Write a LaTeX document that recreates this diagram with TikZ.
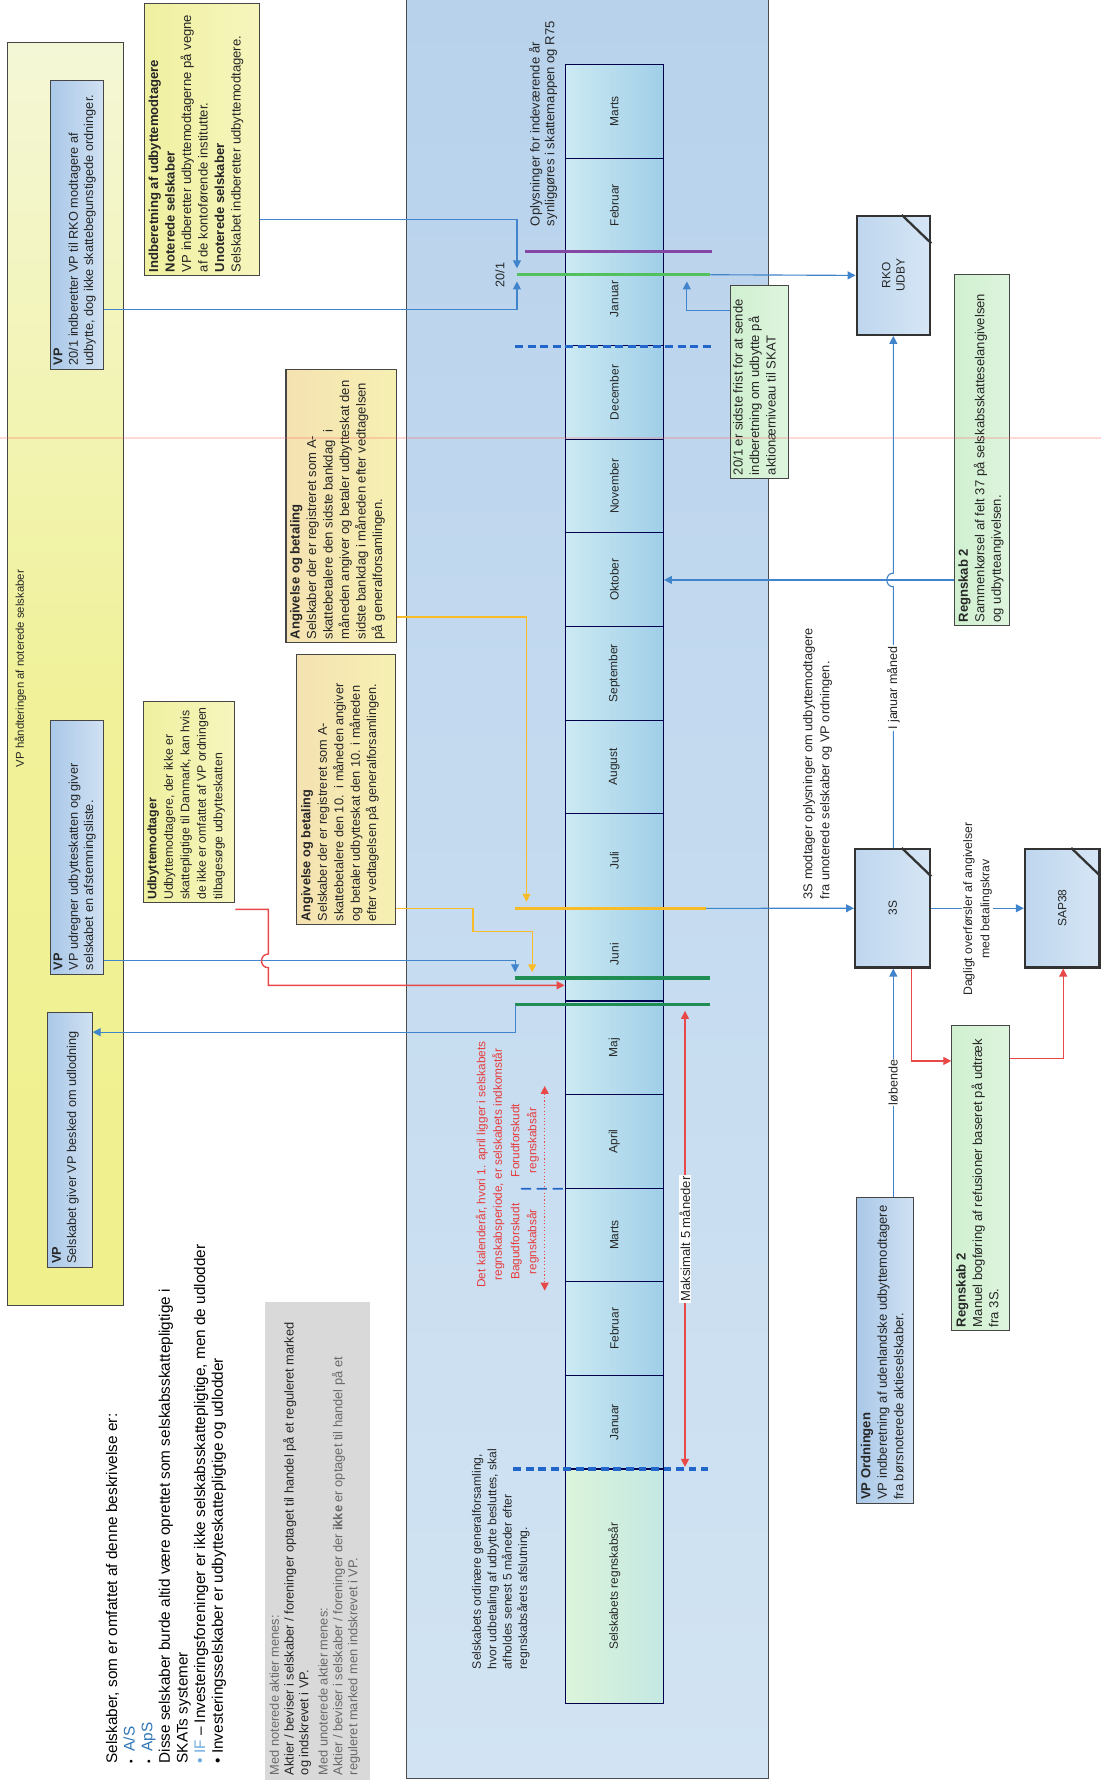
\documentclass[tikz,border=0pt]{standalone}
\usepackage{fontspec}
\setmainfont{Liberation Sans}
\usetikzlibrary{arrows.meta,fit,calc}
\definecolor{lnblue}{RGB}{64,132,204}
\definecolor{lnyel}{RGB}{248,188,40}
\definecolor{lnred}{RGB}{232,72,72}
\definecolor{lngreen}{RGB}{82,192,92}
\definecolor{lndgreen}{RGB}{32,142,82}
\definecolor{lnpurple}{RGB}{132,72,164}
\definecolor{lndash}{RGB}{34,102,204}
\definecolor{bordergray}{RGB}{70,70,70}
\definecolor{txtblue}{RGB}{46,117,182}
\definecolor{txtlblue}{RGB}{110,170,225}
\definecolor{txtgray}{RGB}{105,105,105}
\definecolor{txtred}{RGB}{230,60,60}
\definecolor{panelA}{RGB}{184,210,236}
\definecolor{panelB}{RGB}{210,228,243}
\definecolor{bigYa}{RGB}{244,247,214}
\definecolor{bigYb}{RGB}{240,240,140}
\definecolor{vpA}{RGB}{170,200,232}
\definecolor{vpB}{RGB}{208,225,242}
\definecolor{yelA}{RGB}{240,240,160}
\definecolor{yelB}{RGB}{246,246,190}
\definecolor{angA}{RGB}{245,226,178}
\definecolor{angB}{RGB}{246,240,178}
\definecolor{grnA}{RGB}{208,240,208}
\definecolor{grnB}{RGB}{222,244,222}
\definecolor{monA}{RGB}{204,234,242}
\definecolor{monB}{RGB}{160,206,232}
\definecolor{selA}{RGB}{220,244,218}
\definecolor{selB}{RGB}{196,232,226}
\definecolor{sysA}{RGB}{190,214,238}
\definecolor{sysB}{RGB}{214,230,245}
\begin{document}
\begin{tikzpicture}[x=1pt,y=-1pt,
  bx/.style={draw=bordergray, line width=0.9pt, inner sep=0pt},
  bigyel/.style={bx, top color=bigYa, bottom color=bigYb, middle color=bigYb!80!bigYa},
  vpbox/.style={bx, left color=vpA, right color=vpB},
  yelbox/.style={bx, left color=yelA, right color=yelB},
  angbox/.style={bx, left color=angA, right color=angB},
  grnbox/.style={bx, left color=grnA, right color=grnB},
  sysbox/.style={draw=black!80, line width=2pt, inner sep=0pt, left color=sysA, right color=sysB},
  monthbox/.style={draw=black!70!blue, line width=1pt, inner sep=0pt, left color=monA, right color=monB},
  selbox/.style={draw=black!70!blue, line width=1pt, inner sep=0pt, left color=selA, right color=selB},
  txt/.style={rotate=90, anchor=north west, align=left, inner sep=0pt, text=black!85, font=\fontsize{11.5}{14.5}\selectfont},
  lbl/.style={rotate=90, inner sep=1pt, text=black!85, font=\fontsize{10}{12}\selectfont},
  bl/.style={draw=lnblue, line width=1pt},
  arr/.style={-{Triangle[length=7pt,width=7pt]}},
  darr/.style={{Triangle[length=7pt,width=7pt]}-{Triangle[length=7pt,width=7pt]}},
  fold/.style={draw=black!80, line width=2pt}
]
\useasboundingbox (0,0) rectangle (968,1568);
\fill[white] (0,0) rectangle (968,1568);

% ---------- blue panel ----------
\node[draw=black!70, line width=1pt, inner sep=0pt, top color=panelA, bottom color=panelB, fit={(357.7,-5) (675.7,1563.8)}] (panel) {};

% ---------- big yellow box ----------
\node[bigyel, fit={(7,37) (109,1148)}] (bigY) {};
\node[lbl, font=\fontsize{10}{12}\selectfont] (bigYt) at (18,588) {VP håndteringen af noterede selskaber};

% ---------- boxes left ----------
\node[vpbox, fit={(44.5,71) (91,325)}] (vp1) {};
\node[txt, font=\fontsize{11.2}{13.5}\selectfont] (vp1t) at ([xshift=3pt,yshift=4pt]vp1.south west) {\textbf{VP}\\20/1 indberetter VP til RKO modtagere af\\udbytte, dog ikke skattebegunstigede ordninger.};

\node[vpbox, fit={(44.5,634) (91,857)}] (vp2) {};
\node[txt, font=\fontsize{11.2}{13.5}\selectfont] (vp2t) at ([xshift=3pt,yshift=4pt]vp2.south west) {\textbf{VP}\\VP udregner udbytteskatten og giver\\selskabet en afstemningsliste.};

\node[vpbox, fit={(42,890) (81,1115)}] (vp3) {};
\node[txt, font=\fontsize{11.2}{13.5}\selectfont] (vp3t) at ([xshift=4pt,yshift=4pt]vp3.south west) {\textbf{VP}\\Selskabet giver VP besked om udlodning};

\node[yelbox, fit={(127,3.5) (228,242)}] (indb) {};
\node[txt] (indbt) at ([xshift=4pt,yshift=3pt]indb.south west) {\textbf{Indberetning af udbyttemodtagere}\\\textbf{Noterede selskaber}\\VP indberetter udbyttemodtagerne på vegne\\af de kontoførende institutter.\\\textbf{Unoterede selskaber}\\Selskabet indberetter udbyttemodtagere.};

\node[yelbox, fit={(126,617) (206.6,794)}] (udb) {};
\node[txt, font=\fontsize{10.8}{14.5}\selectfont] (udbt) at ([xshift=4pt,yshift=3pt]udb.south west) {\textbf{Udbyttemodtager}\\Udbyttemodtagere, der ikke er\\skattepligtige til Danmark, kan hvis\\de ikke er omfattet af VP ordningen\\tilbagesøge udbytteskatten};

\node[angbox, fit={(251.5,325) (349,565)}] (ang1) {};
\node[txt] (ang1t) at ([xshift=4pt,yshift=3pt]ang1.south west) {\textbf{Angivelse og betaling}\\Selskaber der er registreret som A-\\skattebetalere den sidste bankdag\ \ i\\måneden angiver og betaler udbytteskat den\\sidste bankdag i måneden efter vedtagelsen\\på generalforsamlingen.};

\node[angbox, fit={(261,576) (348,813)}] (ang2) {};
\node[txt, font=\fontsize{11.2}{14.5}\selectfont] (ang2t) at ([xshift=4pt,yshift=3pt]ang2.south west) {\textbf{Angivelse og betaling}\\Selskaber der er registreret som A-\\skattebetalere den 10.\ \ i måneden angiver\\og betaler udbytteskat den 10. i måneden\\efter vedtagelsen på generalforsamlingen.};

% ---------- bottom-left text ----------
\node[txt, text=black, font=\fontsize{13.5}{15.5}\selectfont] (intro) at (93,1551) {Selskaber, som er omfattet af denne beskrivelse er:\\
{\small•}\ \ \textcolor{txtblue}{A/S}\\
{\small•}\ \ \textcolor{txtblue}{ApS}\\
Disse selskaber burde altid være oprettet som selskabsskattepligtige i\\
SKATs systemer\\
\textcolor{txtlblue}{• IF} – Investeringsforeninger er ikke selskabsskattepligtige, men de udlodder\\
• Investeringsselskaber er udbytteskattepligtige og udlodder};

\node[fill=black!15, inner sep=0pt, fit={(233,1145) (325,1565)}] (grayb) {};
\node[txt, font=\fontsize{11.3}{13}\selectfont] (grayt) at ([xshift=4pt,yshift=4pt]grayb.south west) {\textcolor{txtgray}{Med noterede aktier menes:}\\
Aktier / beviser i selskaber / foreninger optaget til handel på et reguleret marked\\
og indskrevet i VP.\\[4pt]
\textcolor{txtgray}{Med unoterede aktier menes:}\\
\textcolor{txtgray}{Aktier / beviser i selskaber / foreninger der \textbf{ikke} er optaget til handel på et}\\
\textcolor{txtgray}{reguleret marked men indskrevet i VP.}};

% ---------- timeline ----------
\foreach \i/\mname in {0/Marts,1/Februar,2/Januar,3/December,4/November,5/Oktober,6/September,7/August,8/Juli,9/Juni,10/Maj,11/April,12/Marts,13/Februar,14/Januar} {
  \pgfmathsetmacro\ya{57+82.33*\i}
  \pgfmathsetmacro\yb{57+82.33*(\i+1)}
  \node[monthbox, fit={(497,\ya) (583.4,\yb)}] (m\i) {};
  \node[lbl, font=\fontsize{10.5}{12}\selectfont] (m\i t) at (m\i.center) {\mname};
}
\node[selbox, fit={(497,1291.9) (583.4,1498)}] (msel) {};
\node[lbl, font=\fontsize{10.5}{12}\selectfont] (mselt) at (msel.center) {Selskabets regnskabsår};

% texts in panel
\node[txt, font=\fontsize{11.5}{13}\selectfont] (oplys) at (465,199) {Oplysninger for indeværende år\\synliggøres i skattemappen og R75};
\node[lbl, font=\fontsize{11}{12}\selectfont] (d201) at (439.7,242) {20/1};
\node[txt, font=\fontsize{10.7}{13.5}\selectfont] (gf) at (415,1468) {Selskabets ordinære generalforsamling,\\hvor udbetaling af udbytte besluttes, skal\\afholdes senest 5 måneder efter\\regnskabsårets afslutning.};
\node[lbl, text=txtred, align=center, font=\fontsize{10.4}{14.5}\selectfont] (kal) at (431,1024) {Det kalenderår, hvori 1. april ligger i selskabets\\regnskabsperiode, er selskabets indkomstår};
\node[lbl, text=txtred, align=center, font=\fontsize{10.4}{15}\selectfont] (bag) at (461.5,1092) {Bagudforskudt\\regnskabsår};
\node[lbl, text=txtred, align=center, font=\fontsize{10.4}{15}\selectfont] (forud) at (461.5,1003) {Forudforskudt\\regnskabsår};

% ---------- right side boxes ----------
\node[grnbox, fit={(642,250.7) (693.3,420.6)}] (frist) {};
\node[txt] (fristt) at ([xshift=3pt,yshift=3pt]frist.south west) {20/1 er sidste frist for at sende\\indberetning om udbytte på\\aktionærniveau til SKAT};

\node[sysbox, fit={(753.4,190) (818,294.4)}] (rko) {};
\draw[fold] ([xshift=-26pt]rko.north east) -- ([yshift=-25pt]rko.north east);
\node[lbl, align=center, font=\fontsize{10.5}{12.5}\selectfont] (rkot) at (rko.center) {RKO\\UDBY};

\node[grnbox, fit={(839,241.6) (888,550)}] (reg2a) {};
\node[txt] (reg2at) at ([xshift=4pt,yshift=3pt]reg2a.south west) {\textbf{Regnskab 2}\\Sammenkørsel af felt 37 på selskabsskatteselangivelsen\\og udbytteangivelsen.};

\node[sysbox, fit={(752,746.7) (818,850.8)}] (s3) {};
\draw[fold] ([xshift=-26pt]s3.north east) -- ([yshift=-25pt]s3.north east);
\node[lbl, font=\fontsize{10.5}{12}\selectfont] (s3t) at (s3.center) {3S};

\node[sysbox, fit={(901.4,746.7) (967,850.8)}] (sap) {};
\draw[fold] ([xshift=-26pt]sap.north east) -- ([yshift=-25pt]sap.north east);
\node[lbl, font=\fontsize{10.5}{12}\selectfont] (sapt) at (sap.center) {SAP38};

\node[grnbox, fit={(837,901.8) (888,1169.8)}] (reg2b) {};
\node[txt] (reg2bt) at ([xshift=4pt,yshift=3pt]reg2b.south west) {\textbf{Regnskab 2}\\Manuel bogføring af refusioner baseret på udtræk\\fra 3S.};

\node[vpbox, fit={(753.4,1053) (803,1321.8)}] (vpord) {};
\node[txt] (vpordt) at ([xshift=4pt,yshift=3pt]vpord.south west) {\textbf{VP Ordningen}\\VP indberetning af udenlandske udbyttemodtagere\\fra børsnoterede aktieselskaber.};

\node[txt, font=\fontsize{11.3}{15}\selectfont] (s3info) at (706,791) {3S modtager oplysninger om udbyttemodtagere\\fra unoterede selskaber og VP ordningen.};

% ---------- coordinates ----------
\coordinate (ja) at (454.6,193);
\coordinate (ta) at (454.6,236);
\coordinate (jb) at (454.6,272);
\coordinate (tb) at (454.6,247.5);
\coordinate (jc) at (604,273);
\coordinate (tc) at (604,247.5);
\coordinate (g1a) at (454.6,241.6);
\coordinate (g1b) at (624.6,241.6);
\coordinate (p1a) at (461.7,221);
\coordinate (p1b) at (626,221);
\coordinate (d1a) at (453,304.5);
\coordinate (d1b) at (626,304.5);
\coordinate (jd) at (700,510);
\coordinate (cx) at (785.6,0);
\coordinate (je) at (463,542.6);
\coordinate (te) at (463,793);
\coordinate (y1a) at (453,798.8);
\coordinate (y1b) at (621,798.8);
\coordinate (jf1) at (416,798.8);
\coordinate (jf2) at (416,819);
\coordinate (jf3) at (468,819);
\coordinate (tf) at (468,855);
\coordinate (jg) at (453,845);
\coordinate (tg) at (453,855);
\coordinate (g2a) at (453,860);
\coordinate (g2b) at (624.6,860);
\coordinate (g3a) at (453,883.4);
\coordinate (g3b) at (624.6,883.4);
\coordinate (jh) at (453,907.7);
\coordinate (jr1) at (236,799.7);
\coordinate (jr2) at (236,866.5);
\coordinate (mk1) at (602.4,889);
\coordinate (mk2) at (602.4,1290);
\coordinate (d2a) at (451.5,1292);
\coordinate (d2b) at (623,1292);
\coordinate (ra1) at (479,955);
\coordinate (ra2) at (479,1135);
\coordinate (d3a) at (458,1045.3);
\coordinate (jq) at (935,931);
\coordinate (jr) at (801.8,933);
\coordinate (cx2) at (785.6,0);

% ---------- thick lines ----------
\draw[lnpurple, line width=3pt] (p1a) -- (p1b);
\draw[lngreen, line width=3pt] (g1a) -- (g1b);
\draw[lndash, line width=3pt, dash pattern=on 7pt off 4pt] (d1a) -- (d1b);
\draw[lnyel, line width=3pt] (y1a) -- (y1b);
\draw[lndgreen, line width=3pt] (g2a) -- (g2b);
\draw[lndgreen, line width=3pt] (g3a) -- (g3b);
\draw[lndash, line width=3pt, dash pattern=on 7pt off 4pt] (d2a) -- (d2b);
\draw[lndash, line width=1.5pt, dash pattern=on 9pt off 5pt] (d3a) -- (m11.south west);

% ---------- connectors ----------
\draw[bl,arr] (indb.east |- ja) -- (ja) -- (ta);
\draw[bl,arr] (vp1.east |- jb) -- (jb) -- (tb);
\draw[bl,arr] (frist.west |- jc) -- (jc) -- (tc);
\draw[bl,arr] (g1b) -- (rko.west);
\draw[bl,arr] (reg2a.west |- jd) -- (m5.east |- jd);
\draw[lnyel, line width=1pt, arr] (ang1.east |- je) -- (je) -- (te);
\draw[lnyel, line width=1pt, arr] (ang2.east |- jf1) -- (jf1) -- (jf2) -- (jf3) -- (tf);
\draw[bl,arr] (y1b) -- (s3.west);
\draw[bl,arr] (vp2.east |- jg) -- (jg) -- (tg);
\draw[lnred, line width=1.2pt, arr] (udb.east |- jr1) -- (jr1) -- (236,839) .. controls (228,839) and (228,851) .. (236,851) -- (jr2) -- (m9.west |- jr2);
\draw[bl,arr] (g3a) -- (jh) -- (vp3.east |- jh);
\draw[lnred, line width=1.2pt, darr] (mk1) -- (mk2) node[pos=0.5, lbl, fill=white, text=black!85, font=\fontsize{11.5}{13}\selectfont] (mk) {Maksimalt 5 måneder};
\draw[lnred, line width=1pt, dotted, darr] (ra1) -- (ra2);

\draw[bl,arr] (s3.north -| cx) -- (785.6,516) .. controls (778,516) and (778,504) .. (785.6,504) -- (rko.south -| cx);
\node[lbl, fill=white, font=\fontsize{11}{13}\selectfont] (jan) at (785.6,605) {I januar måned};
\draw[bl,arr] (s3.east) -- (sap.west);
\node[lbl, fill=white, align=center, font=\fontsize{10.8}{15}\selectfont] (dag) at (859.7,799.5) {Dagligt overførsler af angivelser\\med betalingskrav};
\draw[lnred, line width=1.2pt, arr] (s3.south -| jr) -- (jr) -- (reg2b.west |- jr);
\draw[lnred, line width=1.2pt, arr] (reg2b.east |- jq) -- (jq) -- (sap.south -| jq);
\draw[bl,arr] (vpord.north -| cx2) -- (s3.south -| cx2);
\node[lbl, fill=white, font=\fontsize{11}{13}\selectfont] (lob) at (785.6,952) {løbende};

% scan artefact line
\draw[red!60, opacity=0.25, line width=1.5pt] (0,385) -- (968,385);
\end{tikzpicture}
\end{document}
